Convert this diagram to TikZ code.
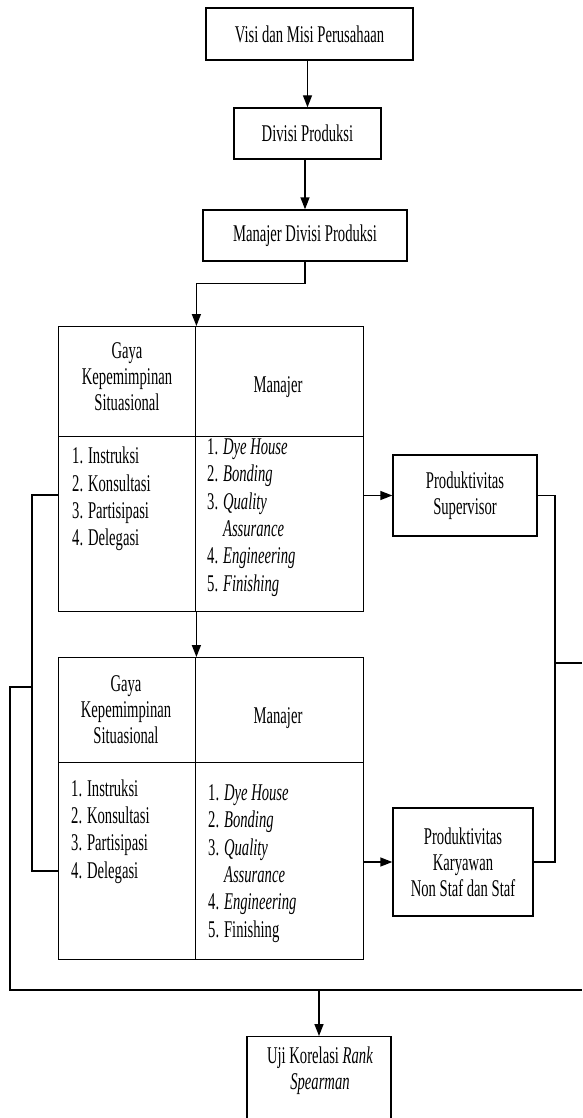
\documentclass[tikz,border=0pt]{standalone}
\usepackage{fontspec}
\setmainfont[FakeStretch=0.61]{Liberation Serif}
\usetikzlibrary{arrows.meta}
\begin{document}
\begin{tikzpicture}[x=1pt,y=-1pt,
 every node/.style={font=\fontsize{24}{27}\selectfont},
 box/.style={draw, line width=1.4pt, inner sep=0pt, align=center, font=\fontsize{24}{26}\selectfont},
 cell/.style={draw, line width=1.4pt, inner sep=0pt, anchor=north west},
 txt/.style={inner sep=0pt, align=center, font=\fontsize{24}{26}\selectfont},
 lst/.style={inner sep=0pt, align=left, anchor=west, font=\fontsize{24}{27.3}\selectfont},
 conn/.style={line width=1.4pt},
 arr/.style={conn, -{Triangle[length=12pt,width=9pt]}}]
\useasboundingbox (0,0) rectangle (582,1118);
\clip (0,0) rectangle (582,1118);

% top boxes
\node[box, minimum width=207, minimum height=52] (v1) at (309.5,34) {Visi dan Misi Perusahaan};
\node[box, minimum width=147, minimum height=51] (v2) at (307.5,133.5) {Divisi Produksi};
\node[box, minimum width=204, minimum height=51] (m3) at (305,235.5) {Manajer Divisi Produksi};

% table 1
\node[cell, minimum width=137, minimum height=110] (t1a) at (58,326) {};
\node[cell, minimum width=168, minimum height=110] (t1b) at (195,326) {};
\node[cell, minimum width=137, minimum height=175] (t1c) at (58,436) {};
\node[cell, minimum width=168, minimum height=175] (t1d) at (195,436) {};
\node[txt] (g1) at (127,377) {Gaya\\Kepemimpinan\\Situasional};
\node[txt] (mj1) at (278,387) {Manajer};
\node[lst] (l1) at (72,499) {1. Instruksi\\2. Konsultasi\\3. Partisipasi\\4. Delegasi};
\node[lst] (r1) at (207,517.5) {1. \textit{Dye House}\\2. \textit{Bonding}\\3. \textit{Quality}\\\phantom{3. }\textit{Assurance}\\4. \textit{Engineering}\\5. \textit{Finishing}};

% table 2
\node[cell, minimum width=137, minimum height=105] (t2a) at (58,657) {};
\node[cell, minimum width=168, minimum height=105] (t2b) at (195,657) {};
\node[cell, minimum width=137, minimum height=197] (t2c) at (58,762) {};
\node[cell, minimum width=168, minimum height=197] (t2d) at (195,762) {};
\node[txt] (g2) at (126,710) {Gaya\\Kepemimpinan\\Situasional};
\node[txt] (mj2) at (278,718) {Manajer};
\node[lst] (l2) at (71,831.5) {1. Instruksi\\2. Konsultasi\\3. Partisipasi\\4. Delegasi};
\node[lst] (r2) at (208,863.5) {1. \textit{Dye House}\\2. \textit{Bonding}\\3. \textit{Quality}\\\phantom{3. }\textit{Assurance}\\4. \textit{Engineering}\\5. Finishing};

% right boxes
\node[box, minimum width=144, minimum height=81] (sup) at (465,495.5) {Produktivitas\\Supervisor};
\node[box, minimum width=140, minimum height=108] (kar) at (463,862) {Produktivitas\\Karyawan\\Non Staf dan Staf};

% bottom box
\node[box, minimum width=144, minimum height=110, anchor=north] (uji) at (319,1036) {};
\node[txt] (ujit) at (320,1071) {Uji Korelasi \textit{Rank}\\\textit{Spearman}};

% connectors
\draw[arr] (v2.north |- v1.south) -- (v2.north);
\draw[arr] (m3.north |- v2.south) -- (m3.north);
\draw[arr] (m3.south) -- ++(0,22) -| (t1a.north east);
\draw[arr] (t1c.south east) -- (t2a.north east);
\draw[arr] (sup.west -| t1d.east) -- (sup.west);
\draw[arr] (kar.west -| t2d.east) -- (kar.west);

\coordinate (rj) at (555,663);
\coordinate (re) at (582,663);
\draw[conn] (sup.east) -| (rj) |- (kar.east);
\draw[conn] (rj) -- (re);

\coordinate (lb1) at (32,495);
\coordinate (lb2) at (32,871);
\draw[conn] (lb1 -| t1c.west) -- (lb1) -- (lb2) -- (lb2 -| t2c.west);
\coordinate (lj) at (32,687);
\coordinate (lc) at (10,687);
\coordinate (bl) at (10,990);
\coordinate (br) at (582,990);
\draw[conn] (lj) -- (lc) -- (bl) -- (br);
\draw[arr] (uji.north |- bl) -- (uji.north);
\end{tikzpicture}
\end{document}
